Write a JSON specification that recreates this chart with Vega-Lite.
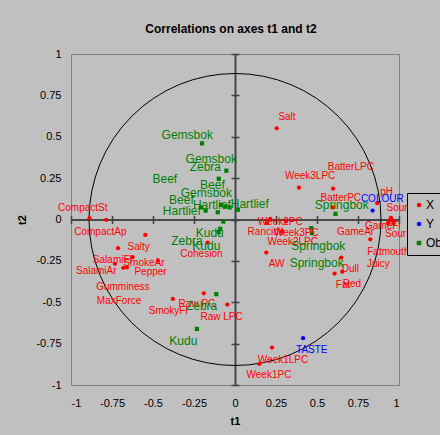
{
  "$schema": "https://vega.github.io/schema/vega-lite/v6.json",
  "width": 328,
  "height": 331,
  "autosize": "none",
  "padding": {"left": 71, "top": 54, "right": 41, "bottom": 50},
  "background": "#C0C0C0",
  "config": {
    "font": "Liberation Sans",
    "view": {"stroke": "#808080", "strokeWidth": 1},
    "axis": {"grid": false, "labelColor": "#000000", "titleColor": "#000000"}
  },
  "title": {"text": "Correlations on axes t1 and t2", "fontSize": 12, "fontWeight": "bold", "color": "#000000", "offset": 12, "dx": -4},
  "datasets": {
    "origin": [{"x": 0, "y": 0}],
    "pts": [
      {"name": "CompactSt", "series": "X", "x": -0.887, "y": 0.008, "lx": -0.928, "ly": 0.069},
      {"name": "CompactAp", "series": "X", "x": -0.785, "y": -0.002, "lx": -0.821, "ly": -0.073},
      {"name": "Salty", "series": "X", "x": -0.547, "y": -0.093, "lx": -0.588, "ly": -0.167},
      {"name": "SalamiFl", "series": "X", "x": -0.713, "y": -0.173, "lx": -0.748, "ly": -0.244},
      {"name": "SmokeAr", "series": "X", "x": -0.624, "y": -0.227, "lx": -0.555, "ly": -0.264},
      {"name": "SalamiAr", "series": "X", "x": -0.732, "y": -0.268, "lx": -0.846, "ly": -0.31},
      {"name": "Pepper", "series": "X", "x": -0.47, "y": -0.248, "lx": -0.515, "ly": -0.315},
      {"name": "Gumminess", "series": "X", "x": -0.681, "y": -0.292, "lx": -0.684, "ly": -0.405},
      {"name": "MaxForce", "series": "X", "x": -0.659, "y": -0.29, "lx": -0.707, "ly": -0.492},
      {"name": "SmokyFl", "series": "X", "x": -0.379, "y": -0.48, "lx": -0.407, "ly": -0.552},
      {"name": "Raw PC", "series": "X", "x": -0.19, "y": -0.446, "lx": -0.232, "ly": -0.512},
      {"name": "Raw LPC", "series": "X", "x": -0.047, "y": -0.514, "lx": -0.082, "ly": -0.589},
      {"name": "Cohesion", "series": "X", "x": -0.167, "y": -0.139, "lx": -0.205, "ly": -0.209},
      {"name": "Salt", "series": "X", "x": 0.254, "y": 0.551, "lx": 0.317, "ly": 0.619},
      {"name": "Week3LPC", "series": "X", "x": 0.39, "y": 0.192, "lx": 0.458, "ly": 0.264},
      {"name": "BatterLPC", "series": "X", "x": 0.598, "y": 0.186, "lx": 0.706, "ly": 0.315},
      {"name": "BatterPC", "series": "X", "x": 0.598, "y": 0.073, "lx": 0.645, "ly": 0.129},
      {"name": "pH", "series": "X", "x": 0.866, "y": 0.099, "lx": 0.924, "ly": 0.169},
      {"name": "Sour", "series": "X", "x": 0.951, "y": 0.01, "lx": 0.988, "ly": 0.069},
      {"name": "GameFl", "series": "X", "x": 0.943, "y": -0.006, "lx": 0.901, "ly": -0.038},
      {"name": "Sour", "series": "X", "x": 0.961, "y": -0.006, "lx": 0.979, "ly": -0.088},
      {"name": "Fatmouth", "series": "X", "x": 0.967, "y": -0.022, "lx": 0.935, "ly": -0.194},
      {"name": "Juicy", "series": "X", "x": 0.933, "y": -0.022, "lx": 0.874, "ly": -0.27},
      {"name": "GameAr", "series": "X", "x": 0.825, "y": -0.12, "lx": 0.735, "ly": -0.076},
      {"name": "Week2PC", "series": "X", "x": 0.311, "y": -0.012, "lx": 0.276, "ly": -0.018},
      {"name": "Rancidit", "series": "X", "x": 0.195, "y": -0.022, "lx": 0.187, "ly": -0.073},
      {"name": "Week3PC", "series": "X", "x": 0.287, "y": -0.073, "lx": 0.374, "ly": -0.082},
      {"name": "Week2LPC", "series": "X", "x": 0.215, "y": 0.004, "lx": 0.352, "ly": -0.137},
      {"name": "AW", "series": "X", "x": 0.191, "y": -0.2, "lx": 0.254, "ly": -0.27},
      {"name": "Dull", "series": "X", "x": 0.648, "y": -0.23, "lx": 0.703, "ly": -0.3},
      {"name": "Fat", "series": "X", "x": 0.607, "y": -0.327, "lx": 0.659, "ly": -0.395},
      {"name": "Red", "series": "X", "x": 0.654, "y": -0.315, "lx": 0.713, "ly": -0.389},
      {"name": "Week1LPC", "series": "X", "x": 0.226, "y": -0.774, "lx": 0.293, "ly": -0.849},
      {"name": "Week1PC", "series": "X", "x": 0.148, "y": -0.873, "lx": 0.207, "ly": -0.94},
      {"name": "COLOUR", "series": "Y", "x": 0.839, "y": 0.054, "lx": 0.898, "ly": 0.123},
      {"name": "TASTE", "series": "Y", "x": 0.415, "y": -0.717, "lx": 0.468, "ly": -0.788},
      {"name": "Gemsbok", "series": "Obs", "x": -0.201, "y": 0.46, "lx": -0.291, "ly": 0.512},
      {"name": "Gemsbok", "series": "Obs", "x": -0.053, "y": 0.295, "lx": -0.145, "ly": 0.365},
      {"name": "Zebra", "series": "Obs", "x": -0.099, "y": 0.246, "lx": -0.181, "ly": 0.315},
      {"name": "Beef", "series": "Obs", "x": -0.207, "y": 0.073, "lx": -0.428, "ly": 0.244},
      {"name": "Beef", "series": "Obs", "x": -0.085, "y": 0.089, "lx": -0.138, "ly": 0.206},
      {"name": "Gemsbok", "series": "Obs", "x": -0.179, "y": 0.054, "lx": -0.175, "ly": 0.163},
      {"name": "Beef", "series": "Obs", "x": -0.105, "y": 0.044, "lx": -0.327, "ly": 0.115},
      {"name": "Hartlief", "series": "Obs", "x": -0.059, "y": 0.079, "lx": -0.324, "ly": 0.053},
      {"name": "Hartlief", "series": "Obs", "x": -0.033, "y": 0.073, "lx": -0.141, "ly": 0.085},
      {"name": "Hartlief", "series": "Obs", "x": 0.018, "y": 0.059, "lx": 0.09, "ly": 0.093},
      {"name": "Kudu", "series": "Obs", "x": -0.071, "y": -0.012, "lx": -0.154, "ly": -0.082},
      {"name": "Kudu", "series": "Obs", "x": -0.1, "y": -0.076, "lx": -0.175, "ly": -0.163},
      {"name": "Zebra", "series": "Obs", "x": -0.09, "y": -0.056, "lx": -0.293, "ly": -0.127},
      {"name": "Zebra", "series": "Obs", "x": -0.114, "y": -0.451, "lx": -0.204, "ly": -0.524},
      {"name": "Kudu", "series": "Obs", "x": -0.232, "y": -0.661, "lx": -0.315, "ly": -0.732},
      {"name": "Springbok", "series": "Obs", "x": 0.613, "y": 0.034, "lx": 0.651, "ly": 0.089},
      {"name": "Springbok", "series": "Obs", "x": 0.465, "y": -0.052, "lx": 0.508, "ly": -0.159},
      {"name": "Springbok", "series": "Obs", "x": 0.47, "y": -0.082, "lx": 0.498, "ly": -0.26}
    ]
  },
  "layer": [
    {
      "data": {"name": "origin"},
      "mark": {"type": "point", "shape": "circle", "filled": false, "size": 85271, "stroke": "#000000", "strokeWidth": 1, "opacity": 1},
      "encoding": {
        "x": {"field": "x", "type": "quantitative", "scale": {"domain": [-1, 1], "nice": false, "zero": false},
          "axis": {"orient": "bottom", "offset": -165.5, "labels": false, "ticks": true, "tickSize": 4, "tickColor": "#404040", "tickWidth": 1.5, "domain": true, "domainColor": "#404040", "domainWidth": 1.5, "title": null, "values": [-1, -0.75, -0.5, -0.25, 0, 0.25, 0.5, 0.75, 1]}},
        "y": {"field": "y", "type": "quantitative", "scale": {"domain": [-1, 1], "nice": false, "zero": false},
          "axis": {"orient": "left", "offset": -164, "labels": false, "ticks": true, "tickSize": 4, "tickColor": "#404040", "tickWidth": 1.5, "domain": true, "domainColor": "#404040", "domainWidth": 1.5, "title": null, "values": [-1, -0.75, -0.5, -0.25, 0, 0.25, 0.5, 0.75, 1]}}
      }
    },
    {
      "data": {"name": "pts"},
      "mark": {"type": "point", "filled": true, "size": 18, "opacity": 1},
      "encoding": {
        "x": {"field": "x", "type": "quantitative", "scale": {"domain": [-1, 1], "nice": false, "zero": false},
          "axis": {"orient": "top", "offset": -165.5, "labels": false, "ticks": true, "tickSize": 4, "tickColor": "#404040", "tickWidth": 1.5, "domain": true, "domainColor": "#404040", "domainWidth": 1.5, "title": null, "values": [-1, -0.75, -0.5, -0.25, 0, 0.25, 0.5, 0.75, 1]}},
        "y": {"field": "y", "type": "quantitative", "scale": {"domain": [-1, 1], "nice": false, "zero": false},
          "axis": {"orient": "right", "offset": -164, "labels": false, "ticks": true, "tickSize": 4, "tickColor": "#404040", "tickWidth": 1.5, "domain": true, "domainColor": "#404040", "domainWidth": 1.5, "title": null, "values": [-1, -0.75, -0.5, -0.25, 0, 0.25, 0.5, 0.75, 1]}},
        "color": {"field": "series", "type": "nominal", "scale": {"domain": ["X", "Y", "Obs"], "range": ["#FF0000", "#0000FF", "#008000"]},
          "legend": {"orient": "none", "legendX": 336, "legendY": 139, "title": null, "fillColor": "#C0C0C0", "strokeColor": "#000000", "padding": 6, "labelFontSize": 12, "labelColor": "#000000", "symbolSize": 20, "rowPadding": 7, "labelOffset": 1, "direction": "vertical"}},
        "shape": {"field": "series", "type": "nominal", "scale": {"domain": ["X", "Y", "Obs"], "range": ["circle", "circle", "square"]}}
      }
    },
    {
      "data": {"name": "pts"},
      "transform": [{"filter": "datum.series === 'X'"}],
      "mark": {"type": "text", "fontSize": 10, "color": "#FF0000", "align": "center", "baseline": "middle"},
      "encoding": {
        "x": {"field": "lx", "type": "quantitative", "scale": {"domain": [-1, 1], "nice": false, "zero": false},
          "axis": {"orient": "bottom", "domain": false, "ticks": false, "labelPadding": 12, "labelFontSize": 11, "title": "t1", "titleFontSize": 11, "titleFontWeight": "bold", "titlePadding": 7, "values": [-1, -0.75, -0.5, -0.25, 0, 0.25, 0.5, 0.75, 1], "labelExpr": "(datum.value < 0 ? '-' : '') + format(abs(datum.value), '~g')"}},
        "y": {"field": "ly", "type": "quantitative", "scale": {"domain": [-1, 1], "nice": false, "zero": false},
          "axis": {"orient": "left", "domain": false, "ticks": false, "labelPadding": 10, "labelFontSize": 11, "title": "t2", "titleFontSize": 11, "titleFontWeight": "bold", "titlePadding": 8, "values": [-1, -0.75, -0.5, -0.25, 0, 0.25, 0.5, 0.75, 1], "labelExpr": "(datum.value < 0 ? '-' : '') + format(abs(datum.value), '~g')"}},
        "text": {"field": "name"}
      }
    },
    {
      "data": {"name": "pts"},
      "transform": [{"filter": "datum.series === 'Y'"}],
      "mark": {"type": "text", "fontSize": 10, "color": "#0000FF", "align": "center", "baseline": "middle"},
      "encoding": {
        "x": {"field": "lx", "type": "quantitative", "scale": {"domain": [-1, 1], "nice": false, "zero": false}, "axis": null},
        "y": {"field": "ly", "type": "quantitative", "scale": {"domain": [-1, 1], "nice": false, "zero": false}, "axis": null},
        "text": {"field": "name"}
      }
    },
    {
      "data": {"name": "pts"},
      "transform": [{"filter": "datum.series === 'Obs'"}],
      "mark": {"type": "text", "fontSize": 12, "color": "#008000", "align": "center", "baseline": "middle"},
      "encoding": {
        "x": {"field": "lx", "type": "quantitative", "scale": {"domain": [-1, 1], "nice": false, "zero": false}, "axis": null},
        "y": {"field": "ly", "type": "quantitative", "scale": {"domain": [-1, 1], "nice": false, "zero": false}, "axis": null},
        "text": {"field": "name"}
      }
    }
  ],
  "resolve": {"axis": {"x": "independent", "y": "independent"}}
}
